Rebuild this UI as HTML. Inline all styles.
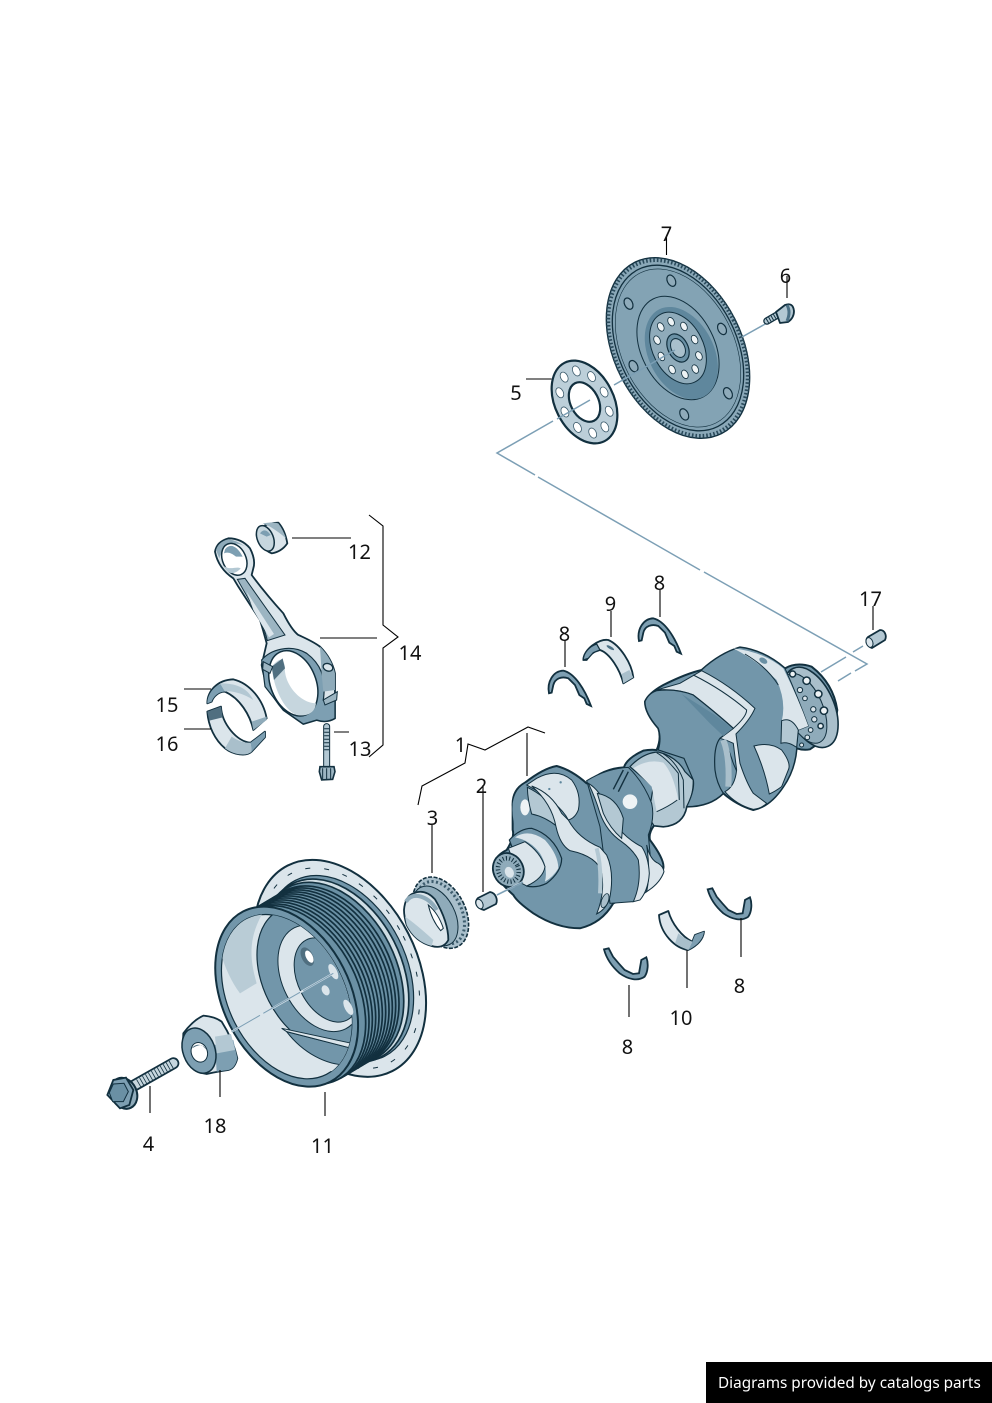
<!DOCTYPE html>
<html><head><meta charset="utf-8"><style>
html,body{margin:0;padding:0;background:#fff}
svg{display:block}
svg *{vector-effect:non-scaling-stroke}
.l{stroke:#000;stroke-width:1.1;fill:none}
.a{stroke:#7c9fb5;stroke-width:1.5;fill:none}
.k{stroke:#12303f;stroke-width:1.8;stroke-linejoin:round}
.t{stroke:#12303f;stroke-width:1;fill:none}
.d{fill:#7296aa}.m{fill:#b3c8d3}.p{fill:#dbe5eb}.w{fill:#fff}
text{font-family:"Noto Sans","Noto Sans CJK JP","Liberation Sans",sans-serif;font-size:20px;fill:#111;text-anchor:middle}
</style></head><body>
<svg width="992" height="1403" viewBox="0 0 992 1403" xmlns="http://www.w3.org/2000/svg">
<defs>
<g id="h10"><circle cx="28" cy="0" r="4.5"/><circle cx="22.7" cy="16.5" r="4.5"/><circle cx="8.7" cy="26.6" r="4.5"/><circle cx="-8.7" cy="26.6" r="4.5"/><circle cx="-22.7" cy="16.5" r="4.5"/><circle cx="-28" cy="0" r="4.5"/><circle cx="-22.7" cy="-16.5" r="4.5"/><circle cx="-8.7" cy="-26.6" r="4.5"/><circle cx="8.7" cy="-26.6" r="4.5"/><circle cx="22.7" cy="-16.5" r="4.5"/></g>
<path id="wa" d="M27,370 C20,335 40,303 70,302 C105,310 135,360 153,408 L140,402 L133,385 L118,375 L105,345 L85,325 C65,318 45,325 40,345 L35,368 Z"/>
<path id="wb" d="M338,28 L352,25 L365,50 L382,70 L400,90 L425,102 L443,100 L450,60 L465,52 C472,70 470,95 460,110 C440,125 410,118 385,100 C360,78 345,55 338,28Z"/>
</defs>

<!-- flywheel 7 -->
<g transform="translate(678,348) rotate(-27) scale(.665,1)">
<circle r="96" fill="#8aa8b8" stroke="#12303f" stroke-width="1.400"/>
<circle r="93.500" fill="none" stroke="#2a4a5b" stroke-width="4" stroke-dasharray="1.600 2"/>
<circle r="88" fill="#83a3b4" stroke="#12303f" stroke-width="1.300"/>
<circle r="84" fill="none" stroke="#12303f" stroke-width=".6"/>
<circle r="55" fill="#83a3b4" stroke="#12303f" stroke-width="1"/>
<circle cx="1" cy="6" r="49" fill="#5f879d"/>
<circle r="38" fill="#8fabba" stroke="#12303f" stroke-width="1"/>
<use href="#h10" fill="#eef3f5" stroke="#12303f" stroke-width=".8"/>
<circle r="15" fill="#6a90a4" stroke="#12303f" stroke-width="1.200"/>
<circle r="10" fill="#a9c0cc" stroke="#12303f" stroke-width="1"/>
<g fill="#8fabba" stroke="#12303f" stroke-width="1.200">
<circle cx="-72" cy="-4" r="6"/><circle cx="-36" cy="-62" r="6"/><circle cx="37" cy="-63" r="6"/><circle cx="72" cy="3" r="6"/><circle cx="36" cy="63" r="6"/><circle cx="-37" cy="62" r="6"/>
</g>
</g>

<!-- plate 5 -->
<g transform="translate(584.5,402) rotate(-27) scale(.665,1)">
<circle r="44" fill="#bccfd9" stroke="#12303f" stroke-width="2.200"/>
<circle r="21" fill="#fff" stroke="#12303f" stroke-width="2.200"/>
<g transform="scale(1.18)"><use href="#h10" fill="#fff" stroke="#3d5c6d" stroke-width=".8"/></g>
</g>

<!-- axis lines -->
<g class="a">
<path d="M590,400 L557,419 M553,421 L497,453 L535,475 M538,477 L700,570 M704,572 L867,664 L855,671 M851,673 L838,681"/>
<path d="M614,385 L675,350 M742,337 L767,323"/>
<path d="M821,672 L846,657 M853,652 L863,646"/>
</g>

<!-- bolt 6 -->
<path d="M767,321 L779,314" stroke="#12303f" stroke-width="7.500" stroke-linecap="round"/>
<path d="M767,321 L779,314" stroke="#b3c8d3" stroke-width="5" stroke-linecap="round"/>
<path d="M767,321 L779,314" stroke="#12303f" stroke-width="5" stroke-dasharray="1 1.800"/>
<path d="M776,312 L785,305 Q793,302 794,311 Q794,318 788,322 L780,323Z" class="m k"/>
<path d="M787,305 Q791,312 787,321" stroke="#4b7085" stroke-width="3" fill="none"/>

<!-- pin 17 -->
<path d="M868,637 L880,630 C885,630 887,636 885,640 L872,648 C866,646 865,640 868,637Z" class="m k"/>
<ellipse cx="869.500" cy="642.500" rx="3.300" ry="5" transform="rotate(-20 869.500 642.500)" fill="#dbe5eb" stroke="#12303f"/>

<!-- thrust washers top -->
<g transform="translate(540,570) scale(.3333)">
<use href="#wa" fill="#7d9fb2" stroke="#12303f" stroke-width="1.800"/>
<use href="#wa" x="270" y="-157" fill="#7d9fb2" stroke="#12303f" stroke-width="1.800"/>
<path d="M130,270 C130,240 175,205 205,210 C240,225 275,280 280,322 L250,340 C240,300 210,250 180,240 L165,245 L150,255 L140,270 Z" class="p k"/>
<path d="M130,270 C130,248 150,228 170,222 L180,240 L160,248 L145,265Z" fill="#7d9fb2" stroke="#12303f" stroke-width="1.200"/>
<ellipse cx="211" cy="233" rx="13" ry="4" transform="rotate(30 211 233)" fill="#4b7085"/>
<path d="M250,340 L245,312 L268,300 L280,322Z" fill="#a9bfcb"/>
</g>

<!-- thrust washers bottom / shell 10 -->
<g transform="translate(595,880) scale(.3333)">
<use href="#wb" fill="#7d9fb2" stroke="#12303f" stroke-width="1.800"/>
<use href="#wb" x="-311" y="180" fill="#7d9fb2" stroke="#12303f" stroke-width="1.800"/>
<path d="M192,105 L220,93 C230,130 260,170 292,185 L300,165 L327,155 C325,175 310,195 280,210 C240,205 195,160 192,105Z" class="p k"/>
<path d="M300,165 L327,155 C325,175 310,195 280,210 L292,185Z" fill="#7d9fb2"/>
<path d="M240,190 C255,200 270,206 280,210 L292,185 C275,178 262,170 250,160Z" fill="#a9bfcb"/>
</g>

<!-- crankshaft rear -->
<g transform="translate(400,630) scale(.3333)">
<path class="d k" style="stroke-width:2" d="M338,530 Q335,480 375,458 Q430,415 470,408 Q515,420 560,460 Q610,415 672,412 Q680,385 730,362 Q750,358 770,360 Q785,325 775,295 Q735,250 735,215 Q745,190 790,165 Q860,130 905,120 Q960,70 1020,52 Q1090,60 1155,115 Q1190,95 1235,110 Q1300,160 1312,240 Q1305,310 1230,358 Q1210,362 1190,355 Q1185,420 1150,470 Q1110,530 1060,540 Q1010,525 970,490 Q930,530 860,530 Q850,585 790,590 L762,587 Q745,610 750,630 Q795,690 790,715 Q785,750 740,770 Q690,800 640,820 Q605,880 540,895 Q470,895 400,850 Q350,815 340,795 Q285,745 280,715 Q280,680 320,660 Q345,620 338,600 Z"/>
<!-- flange -->
<ellipse cx="1232" cy="232" rx="70" ry="128" transform="rotate(-24 1232 232)" fill="#a9bfcb" stroke="#12303f" stroke-width="1.600"/>
<ellipse cx="1213" cy="235" rx="55" ry="112" transform="rotate(-24 1213 235)" fill="#8fabba" stroke="#12303f" stroke-width="1"/>
<g fill="#eef3f5" stroke="#12303f" stroke-width="1.500"><circle cx="1220" cy="152" r="11"/><circle cx="1255" cy="192" r="11"/><circle cx="1272" cy="242" r="11"/><circle cx="1262" cy="288" r="8"/><circle cx="1178" cy="132" r="9"/></g>
<g fill="#dbe5eb" stroke="#12303f" stroke-width="1"><circle cx="1240" cy="238" r="8"/><circle cx="1243" cy="268" r="8"/><circle cx="1232" cy="300" r="7"/><circle cx="1222" cy="322" r="7"/><circle cx="1200" cy="180" r="8"/><circle cx="1215" cy="205" r="7"/><circle cx="1205" cy="345" r="6"/></g>
<!-- rear web dark -->
<path class="d" stroke="#12303f" stroke-width="1" d="M905,120 Q960,70 1020,52 Q1090,60 1155,115 Q1195,205 1225,288 L1195,300 L1190,355 Q1185,420 1150,470 Q1110,530 1060,540 L1000,400Z"/>
<path class="p" d="M1000,55 Q1090,65 1150,115 Q1195,205 1225,288 L1195,300 Q1175,260 1145,275 Q1160,215 1130,150 Q1070,90 1000,55Z"/>
<path d="M1035,72 Q1100,110 1135,165" class="t"/>
<ellipse cx="1090" cy="92" rx="13" ry="8" transform="rotate(30 1090 92)" fill="#6a90a4"/>
<path class="m" d="M1145,272 Q1175,260 1195,300 L1190,352 L1178,345 Q1160,335 1143,340Z" stroke="#12303f" stroke-width="1"/>
<path class="p" stroke="#12303f" stroke-width="1" d="M1062,348 Q1110,335 1145,360 Q1175,400 1165,420 L1145,470 Q1125,485 1108,492 Q1095,420 1062,348Z"/>
<!-- middle journal -->
<path class="m" stroke="#12303f" stroke-width="1.200" d="M690,410 Q730,368 775,366 Q830,380 855,425 L880,450 Q880,500 860,530 Q850,585 790,590 L762,587 L745,560 L760,470Z"/>
<path class="p" d="M700,415 Q745,385 790,398 Q820,430 835,510 L770,545 L755,470Z"/>
<path d="M790,372 Q830,395 850,450 L852,535 M770,368 Q800,385 835,430 L838,510 M832,510 Q805,530 770,545" class="t"/>
<!-- band 2 -->
<path class="p" stroke="#12303f" stroke-width="1" d="M770,180 L840,160 L905,122 Q990,165 1065,235 Q1050,270 1008,312 L1020,400 Q1040,460 1060,490 L1100,520 Q1085,535 1060,538 Q1010,525 975,485 Q1005,470 1010,420 L1000,340 Q980,330 960,325 L1000,295 Q950,250 880,195 Q830,175 770,180Z"/>
<path d="M880,135 Q970,180 1040,240 Q1040,260 1000,295" class="t"/>
<path d="M970,330 Q990,380 985,470" stroke="#a9bfcb" stroke-width="6" fill="none"/>
<!-- mid web -->
<path class="d" stroke="#12303f" stroke-width="1.200" d="M735,215 Q745,190 770,182 Q830,175 880,195 Q950,250 1000,295 L960,325 Q940,350 945,420 Q950,460 970,490 Q930,530 860,530 Q885,480 880,450 L852,385 L775,360 Q785,325 775,295 Q735,250 735,215Z"/>
<path d="M845,192 L945,255 L998,296 L970,318 L930,280Z" fill="#5f879d"/>
</g>

<!-- crankshaft front -->
<g transform="translate(490,760) scale(.3333)">
<path class="d" stroke="#12303f" stroke-width="1" d="M290,62 Q350,25 415,22 Q460,65 485,130 Q495,175 475,225 L482,300 L470,395 L430,425 L360,430 L330,200Z"/>
<circle cx="420" cy="125" r="22" fill="#eef3f5"/>
<path d="M370,88 L400,30 M385,95 L415,35" stroke="#12303f" stroke-width="1.400" fill="none"/>
<path class="p" stroke="#12303f" stroke-width="1" d="M470,255 Q480,300 505,310 Q520,320 522,335 Q510,370 470,395 Q482,340 470,255Z"/>
<path class="p" stroke="#12303f" stroke-width="1" d="M295,70 Q330,90 355,150 Q385,225 455,260 Q475,290 478,340 Q475,390 450,420 L430,425 Q455,370 445,300 Q430,270 395,245 Q350,215 330,160 Q315,110 295,70Z"/>
<path class="m" d="M322,100 Q380,110 400,175 L395,235 Q360,205 340,160Z" stroke="#12303f" stroke-width="1"/>
<path class="d" d="M68,130 Q75,85 110,68 L118,90 L122,165 L75,205 Q65,165 68,130Z"/>
<ellipse cx="105" cy="142" rx="14" ry="24" fill="#eef3f5"/>
<path class="p" stroke="#12303f" stroke-width="1" d="M110,75 L140,55 Q200,22 245,60 Q275,100 265,150 Q255,175 235,180 Q210,130 110,75Z"/>
<circle cx="178" cy="87" r="3.500" fill="#5f879d"/><circle cx="212" cy="67" r="3.500" fill="#5f879d"/>
<path class="m" stroke="#12303f" stroke-width="1" d="M112,82 Q165,108 195,150 L202,200 Q165,170 125,162 Q113,120 112,82Z"/>
<path class="p" stroke="#12303f" stroke-width="1" d="M125,78 Q185,100 215,160 L235,180 Q265,235 330,262 L350,285 Q375,340 358,420 Q345,450 320,462 Q345,400 335,340 Q325,290 240,272 Q210,255 198,200 Q185,130 125,78Z"/>
<ellipse cx="345" cy="422" rx="10" ry="22" transform="rotate(20 345 422)" fill="#a9bfcb" stroke="#12303f" stroke-width=".8"/>
<path d="M320,265 Q335,320 330,400" stroke="#b3c8d3" stroke-width="4" fill="none"/>
<path class="d" stroke="#12303f" stroke-width="1.200" d="M58,240 Q90,205 125,205 Q190,225 215,295 Q215,335 170,370 Q140,385 110,378Z"/>
<path class="p" d="M75,232 Q115,205 165,240 Q205,285 205,325 Q190,350 165,365 Q175,320 150,280 Q120,240 75,232Z"/>
<path class="p" stroke="#12303f" stroke-width="1" d="M55,265 L105,245 Q150,275 165,320 Q160,355 110,378 L95,370Z"/>
<ellipse cx="55" cy="330" rx="45" ry="52" transform="rotate(-25 55 330)" fill="#8fabba" stroke="#12303f" stroke-width="1.800"/>
<ellipse cx="55" cy="330" rx="30" ry="36" transform="rotate(-25 55 330)" fill="none" stroke="#12303f" stroke-width="4.500" stroke-dasharray="1 2.200"/>
<ellipse cx="58" cy="337" rx="13" ry="17" transform="rotate(-25 58 337)" fill="#dbe5eb"/>
<path d="M20,405 L100,365" stroke="#dbe5eb" stroke-width="2"/>
</g>
<path d="M497,895 L523,882" class="a"/>

<!-- pin 2 -->
<path d="M478,898 L490,892 C496,893 498,900 496,904 L484,910 C476,908 474,902 478,898Z" class="m k"/>
<ellipse cx="479.500" cy="904" rx="3.300" ry="5" transform="rotate(-25 479.500 904)" fill="#dbe5eb" stroke="#12303f"/>

<!-- sprocket 3 -->
<g transform="translate(400,860) scale(.3333)">
<ellipse cx="122" cy="158" rx="74" ry="114" transform="rotate(-27 122 158)" fill="#a9bfcb" stroke="#12303f" stroke-width="1.600" stroke-dasharray="4 1.500"/>
<ellipse cx="122" cy="158" rx="62" ry="100" transform="rotate(-27 122 158)" fill="none" stroke="#3d5c6d" stroke-width="3" stroke-dasharray="2 2.500"/>
<ellipse cx="105" cy="168" rx="60" ry="96" transform="rotate(-27 105 168)" fill="#8fabba" stroke="#12303f" stroke-width="1"/>
<path class="p k" d="M12,150 Q15,110 40,100 Q75,85 105,118 Q145,185 145,240 Q130,268 95,258 Q45,245 20,195 Q12,170 12,150Z"/>
<path d="M18,125 Q30,105 55,108 Q90,115 110,150" stroke="#8fabba" stroke-width="4" fill="none"/>
<path d="M85,135 Q115,160 130,205 L122,212 Q95,180 85,135Z" class="w" stroke="#12303f" stroke-width="1"/>
<path d="M15,170 Q45,190 100,240 L95,258 Q45,245 20,195Z" class="m"/>
</g>

<!-- pulley 11 -->
<g transform="translate(100,850) scale(.3333)">
<g transform="translate(720,355) rotate(-27) scale(.665,1)">
<circle r="346" class="p" stroke="#12303f" stroke-width="2"/>
<circle r="296" fill="#7296aa" stroke="#12303f" stroke-width="1.200"/>
<circle r="320" fill="none" stroke="#12303f" stroke-width="1" stroke-dasharray="5 14"/>
</g>
<g stroke="#12303f" stroke-width="1.700" fill="#6a90a4">
<ellipse cx="708" cy="362" rx="195" ry="292" transform="rotate(-27 708 362)" fill="#cfdde4"/>
<ellipse cx="696" cy="368" rx="192" ry="288" transform="rotate(-27 696 368)"/>
<ellipse cx="684" cy="376" rx="190" ry="285" transform="rotate(-27 684 376)"/>
<ellipse cx="674" cy="382" rx="190" ry="285" transform="rotate(-27 674 382)"/>
<ellipse cx="664" cy="388" rx="190" ry="285" transform="rotate(-27 664 388)"/>
<ellipse cx="654" cy="394" rx="190" ry="285" transform="rotate(-27 654 394)"/>
<ellipse cx="644" cy="400" rx="190" ry="285" transform="rotate(-27 644 400)"/>
<ellipse cx="634" cy="406" rx="190" ry="285" transform="rotate(-27 634 406)"/>
<ellipse cx="624" cy="412" rx="190" ry="285" transform="rotate(-27 624 412)"/>
<ellipse cx="614" cy="418" rx="190" ry="285" transform="rotate(-27 614 418)"/>
<ellipse cx="604" cy="424" rx="190" ry="285" transform="rotate(-27 604 424)"/>
<ellipse cx="594" cy="430" rx="190" ry="285" transform="rotate(-27 594 430)"/>
<ellipse cx="584" cy="435" rx="190" ry="285" transform="rotate(-27 584 435)"/>
</g>
<g transform="translate(560,440) rotate(-27) scale(.665,1)">
<circle r="287" class="d" stroke="#12303f" stroke-width="2"/>
<circle r="262" class="p" stroke="#12303f" stroke-width="1.200"/>
</g>
<clipPath id="pc"><ellipse cx="560" cy="440" rx="174" ry="262" transform="rotate(-27 560 440)"/></clipPath>
<g clip-path="url(#pc)">
<path d="M360,300 C380,240 430,190 500,170 C440,260 450,330 470,400 L420,430 C390,390 370,340 360,300Z" fill="#b9ccd6"/>
<ellipse cx="640" cy="385" rx="150" ry="228" transform="rotate(-27 640 385)" class="d" stroke="#12303f" stroke-width="1.200"/>
<ellipse cx="660" cy="385" rx="112" ry="170" transform="rotate(-27 660 385)" class="p" stroke="#12303f" stroke-width="1"/>
<ellipse cx="680" cy="390" rx="85" ry="135" transform="rotate(-27 680 390)" class="d" stroke="#12303f" stroke-width="1"/>
<path d="M545,535 L760,580 L760,680 L640,650 L590,600Z" class="p"/>
<path d="M560,545 L755,595 L740,645 C680,645 610,610 560,545Z" class="d" stroke="#12303f" stroke-width="1"/>
<path d="M545,535 L755,580 L755,595 L560,545Z" class="p" stroke="#12303f" stroke-width="1"/>
</g>
<ellipse cx="622" cy="320" rx="17" ry="30" transform="rotate(-27 622 320)" fill="#506f80"/><ellipse cx="628" cy="320" rx="10" ry="20" transform="rotate(-27 628 320)" fill="#fff"/>
<ellipse cx="677" cy="421" rx="11" ry="16" transform="rotate(-27 677 421)" class="p"/>
<ellipse cx="700" cy="365" rx="11" ry="25" transform="rotate(-27 700 365)" class="p"/>
<ellipse cx="745" cy="472" rx="11" ry="25" transform="rotate(-27 745 472)" class="p"/>
<path d="M395,545 L700,370" stroke="#dbe5eb" stroke-width="2"/><path d="M395,545 L480,496 M490,490 L600,427 M610,422 L700,370" stroke="#7c9fb5" stroke-width="1"/>
<!-- damper 18 -->
<path d="M250,550 Q280,510 310,497 Q345,500 365,515 Q400,570 412,625 Q405,655 385,660 Q350,665 320,672 Q265,665 248,600Z" class="p k"/>
<path d="M345,585 L400,570 L412,625 Q405,655 385,660 L350,665Z" fill="#7d9fb2"/>
<path d="M345,560 L393,552 L405,600 L350,610Z" fill="#b3c8d3"/>
<ellipse cx="297" cy="602" rx="48" ry="70" transform="rotate(-20 297 602)" fill="#7d9fb2" stroke="#12303f" stroke-width="1.500"/>
<ellipse cx="298" cy="607" rx="24" ry="30" transform="rotate(-20 298 607)" fill="#fff" stroke="#12303f" stroke-width="1"/>
<path d="M276,595 C285,580 310,580 320,600 L305,585 C295,585 285,590 276,595Z" fill="#506f80"/>
<!-- bolt 4 -->
<path d="M105,705 L220,640" stroke="#12303f" stroke-width="12" stroke-linecap="round"/>
<path d="M105,705 L220,640" stroke="#c6d6de" stroke-width="8.500" stroke-linecap="round"/>
<path d="M115,700 L220,640" stroke="#12303f" stroke-width="8.500" stroke-dasharray=".8 2.600" fill="none"/>
<ellipse cx="72" cy="730" rx="38" ry="48" transform="rotate(-25 72 730)" fill="#8fabba" stroke="#12303f" stroke-width="2"/>
<path d="M22,735 L40,690 L78,683 L100,720 L88,765 L60,775Z" fill="#7d9fb2" stroke="#12303f" stroke-width="1.800"/>
<path d="M40,702 L72,700 L85,725 L70,755 L38,755 L28,728Z" fill="#6a90a4" stroke="#12303f" stroke-width="1"/>
</g>

<!-- conrod group -->
<g transform="translate(150,510) scale(.3333)">
<path class="p k" d="M325,62 Q340,40 385,38 Q405,60 412,100 Q395,125 365,130 Q330,115 320,75Z"/>
<ellipse cx="346" cy="85" rx="24" ry="40" transform="rotate(-22 346 85)" fill="#c6d6de" stroke="#12303f" stroke-width="1.500"/>
<path d="M338,40 Q370,35 385,40 Q400,60 408,85 Q385,65 360,50Z" fill="#9cb5c2"/>
<path d="M330,70 Q345,50 362,75 L350,80Z" fill="#7d9fb2"/>
<path class="p k" d="M195,125 Q200,95 235,85 Q275,85 300,115 Q318,150 310,175 L305,195 Q350,255 400,310 Q425,360 445,375 Q490,395 510,410 Q545,445 555,490 L555,625 Q530,640 500,630 L460,642 L400,600 Q345,535 335,465 L350,400 Q335,345 330,330 L265,230 L250,205 Q205,175 195,125Z"/>
<path d="M198,120 Q205,95 235,88 Q260,90 285,110 Q262,95 240,105 Q215,115 208,145 Z" fill="#8fabba"/>
<ellipse cx="253" cy="148" rx="35" ry="50" transform="rotate(-25 253 148)" fill="#fff" stroke="#12303f" stroke-width="1.500"/>
<path d="M225,118 C240,98 262,108 278,140 L258,140 C245,130 235,125 222,130Z" fill="#7d9fb2"/>
<path d="M222,168 C240,182 258,168 272,175 C255,195 232,195 222,168Z" fill="#b3c8d3"/>
<path d="M262,208 L285,205 L405,375 L352,392 Q340,340 320,310Z" fill="#9cb5c2" stroke="#12303f" stroke-width="1"/>
<path d="M290,245 L372,372 L357,382 L310,300Z" class="p"/>
<path d="M335,450 C360,420 420,400 470,430 C510,460 530,500 520,570 L555,560 L555,625 Q530,640 500,630 L460,642 L400,600 L345,530Z" fill="#7d9fb2" stroke="#12303f" stroke-width="1.200"/>
<path d="M510,410 Q545,445 555,490 L555,540 L520,545 L515,490Z" fill="#8fabba"/>
<ellipse cx="534" cy="472" rx="15" ry="11" transform="rotate(20 534 472)" class="p" stroke="#12303f" stroke-width="1.300"/>
<ellipse cx="430" cy="520" rx="68" ry="102" transform="rotate(-22 430 520)" fill="#fff" stroke="#12303f" stroke-width="1.500"/>
<path d="M365,470 C390,440 400,445 405,470 C400,520 450,580 498,580 C495,610 470,620 440,615 C400,600 370,530 365,470Z" fill="#c6d6de"/>
<path d="M365,470 L398,445 L405,475 L372,510Z" fill="#506f80"/>
<path d="M340,455 L368,470 L360,490 L338,478Z M520,570 L562,545 L560,570 L525,585Z" fill="#9cb5c2" stroke="#12303f" stroke-width="1"/>
<path d="M530,650 L530,770" stroke="#12303f" stroke-width="7" stroke-linecap="round"/>
<path d="M530,650 L530,770" stroke="#b3c8d3" stroke-width="5" stroke-linecap="round"/>
<path d="M530,655 L530,725" stroke="#12303f" stroke-width="5" stroke-dasharray="1 2.500"/>
<path d="M510,770 L552,770 L555,785 L548,808 L515,810 L508,785Z" fill="#9cb5c2" stroke="#12303f" stroke-width="1.600"/>
<path d="M518,775 L518,808 M530,775 L530,810 M542,775 L542,808" class="t"/>
<path d="M172,580 C172,545 200,510 250,508 C300,520 340,570 350,625 L310,660 C300,615 270,565 225,545 C205,545 190,560 185,575Z" class="p k"/>
<path d="M172,580 C172,555 190,530 212,522 L225,545 C205,545 190,560 185,575Z" fill="#7d9fb2"/>
<path d="M210,520 C255,520 290,530 310,570 C280,550 240,540 225,545Z" fill="#b3c8d3"/>
<path d="M305,635 L350,620 L350,630 L310,660Z" fill="#8fabba"/>
<path d="M172,605 L213,590 C215,640 260,695 302,698 L345,665 L345,682 L305,725 C290,740 250,735 225,715 C195,690 175,650 172,605Z" class="p k"/>
<path d="M172,605 L213,590 L218,622 L178,632Z" fill="#506f80"/>
<path d="M302,698 L345,665 L345,682 L305,725Z" fill="#7d9fb2"/>
<path d="M225,715 C250,735 290,740 305,725 L302,698 C280,700 260,690 245,680Z" fill="#a9bfcb"/>
</g>

<!-- leaders -->
<g class="l">
<path d="M666.500,237 V255 M787,276 V298 M526,379 H551.500"/>
<path d="M660,590 V617 M611,611 V637 M565,640 V667 M873,606 V630"/>
<path d="M292,538 H351 M320,638 H377 M184,689 H211 M184,729 H211 M334,732 H349"/>
<path d="M369,515 L383,526 V625 L398,637 L383,648 V745 L369,757"/>
<path d="M418,805 L422,786 L465,763 L468,744 L485,750 L528,727 L545,733 M527,733 V776"/>
<path d="M483,785 V892 M432,825 V873"/>
<path d="M150,1086 V1113 M220,1070 V1097 M325,1092 V1116"/>
<path d="M741,918 V957 M687,950 V988 M629,985 V1017"/>
</g>

<!-- labels -->
<text x="666.500" y="241">7</text>
<text x="785.500" y="283">6</text>
<text x="516" y="400">5</text>
<text x="659.500" y="590">8</text>
<text x="610.500" y="611">9</text>
<text x="564.500" y="641">8</text>
<text x="870.500" y="606">17</text>
<text x="359.500" y="559">12</text>
<text x="410" y="660">14</text>
<text x="167" y="712">15</text>
<text x="167" y="751">16</text>
<text x="360" y="756">13</text>
<text x="460.500" y="752">1</text>
<text x="481.500" y="793">2</text>
<text x="432.500" y="825">3</text>
<text x="148.500" y="1151">4</text>
<text x="215" y="1133">18</text>
<text x="322.500" y="1153">11</text>
<text x="739.500" y="993">8</text>
<text x="681" y="1025">10</text>
<text x="627.500" y="1054">8</text>

<rect x="706" y="1362" width="286" height="41" fill="#000"/>
<text x="718" y="1388" style="font-size:15.300px;fill:#fff;text-anchor:start">Diagrams provided by catalogs parts</text>
</svg>
</body></html>
